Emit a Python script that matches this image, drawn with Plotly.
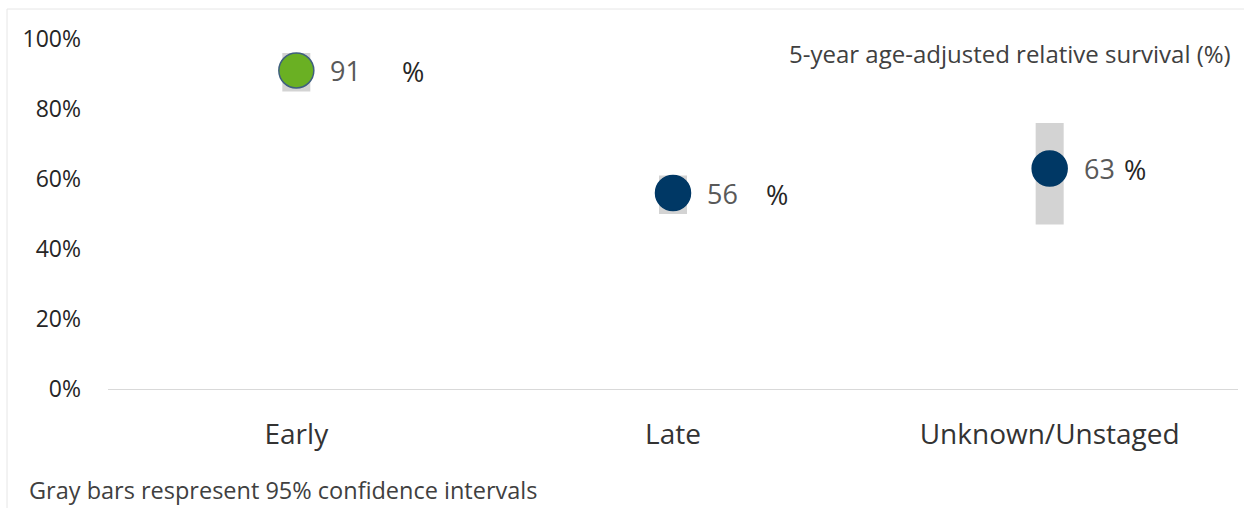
import plotly.graph_objects as go

# ---- data ----
categories = ["Early", "Late", "Unknown/Unstaged"]
survival = [0.91, 0.56, 0.63]
ci_lower = [0.85, 0.50, 0.47]
ci_upper = [0.96, 0.61, 0.76]
value_labels = ["91", "56", "63"]
y_tick_vals = [0, 0.2, 0.4, 0.6, 0.8, 1.0]
y_tick_text = ["0%", "20%", "40%", "60%", "80%", "100%"]

# ---- style ----
marker_fill = ["#6ab023", "#003865", "#003865"]
marker_line = ["#3f5f7f", "#003865", "#003865"]
pct_shift = [104, 91, 72]
FONT = "Open Sans"

W, H = 1244, 508
ML, MR, MT, MB = 108, 6, 39, 119
pw, ph = W - ML - MR, H - MT - MB

fig = go.Figure()

fig.add_trace(go.Bar(
    x=categories,
    y=[u - l for u, l in zip(ci_upper, ci_lower)],
    base=ci_lower,
    width=28 / (pw / 3),
    marker=dict(color="#d3d3d3", line=dict(width=0)),
    hoverinfo="skip",
    showlegend=False,
))

fig.add_trace(go.Scatter(
    x=categories,
    y=survival,
    mode="markers",
    marker=dict(size=35, color=marker_fill, line=dict(color=marker_line, width=1.5)),
    cliponaxis=False,
    showlegend=False,
))

annotations = []
for c, v, lab, ps in zip(categories, survival, value_labels, pct_shift):
    annotations.append(dict(x=c, y=v, xref="x", yref="y", text=lab, showarrow=False,
                            xanchor="left", yanchor="middle", xshift=32,
                            font=dict(family=FONT, size=27, color="#595959")))
    annotations.append(dict(x=c, y=v, xref="x", yref="y", text="%", showarrow=False,
                            xanchor="left", yanchor="middle", xshift=ps, yshift=-1,
                            font=dict(family=FONT, size=27, color="#262626")))

annotations.append(dict(x=(1233 - ML) / pw, y=(H - MB - 54) / ph, xref="paper", yref="paper",
                        text="5-year age-adjusted relative survival (%)", showarrow=False,
                        xanchor="right", yanchor="middle",
                        font=dict(family=FONT, size=24, color="#404040")))
annotations.append(dict(x=(27 - ML) / pw, y=(H - MB - 490) / ph, xref="paper", yref="paper",
                        text="Gray bars respresent 95% confidence intervals", showarrow=False,
                        xanchor="left", yanchor="middle",
                        font=dict(family=FONT, size=23.5, color="#404040")))

fig.update_layout(
    width=W, height=H,
    margin=dict(l=ML, r=MR, t=MT, b=MB),
    paper_bgcolor="white", plot_bgcolor="white",
    font=dict(family=FONT),
    annotations=annotations,
    barmode="overlay",
    shapes=[dict(type="rect", xref="paper", yref="paper",
                 x0=(7 - ML) / pw, x1=1.2, y0=-1, y1=(H - MB - 9) / ph,
                 line=dict(color="#e6e6e6", width=1), layer="below")],
)

fig.update_xaxes(
    type="category", range=[-0.5, 2.5],
    showgrid=False, zeroline=False,
    showline=True, linecolor="#d9d9d9", linewidth=1,
    ticks="", ticklabelstandoff=20,
    tickfont=dict(family=FONT, size=28, color="#333333"),
)
fig.update_yaxes(
    range=[0, 1], tickvals=y_tick_vals, ticktext=y_tick_text,
    showgrid=False, zeroline=False, showline=False,
    ticks="", ticklabelstandoff=26,
    tickfont=dict(family=FONT, size=23, color="#262626"),
)

fig.write_html("out.html", config={"displayModeBar": False},
               post_script="document.body.style.margin='0';document.body.style.overflow='hidden';")
